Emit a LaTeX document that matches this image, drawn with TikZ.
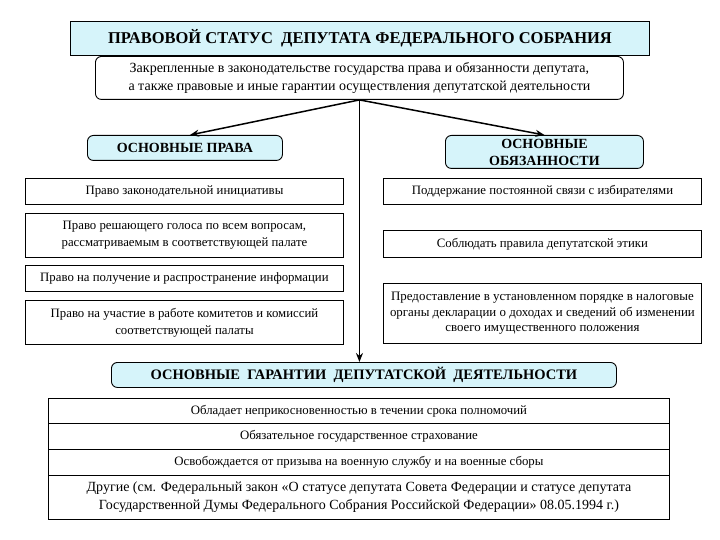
\documentclass[tikz,border=0pt]{standalone}
\usepackage{fontspec}
\setmainfont{LiberationSerif}[Extension=.ttf, UprightFont=*-Regular, BoldFont=*-Bold, ItalicFont=*-Italic, BoldItalicFont=*-BoldItalic]
\usetikzlibrary{arrows.meta}
\definecolor{paleblue}{RGB}{214,244,250}
\begin{document}
\begin{tikzpicture}[x=1pt,y=-1pt,
  base/.style={draw=black, line width=0.9pt, inner sep=0pt, anchor=north west, align=center,
     font=\fontsize{12.8}{17}\selectfont},
  plain/.style={base, fill=white},
  head/.style={base, fill=paleblue, rounded corners=6pt, font=\fontsize{14}{17}\selectfont\bfseries},
  note/.style={base, fill=white, rounded corners=6pt},
  conn/.style={line width=1.5pt, -{Stealth[length=9pt,width=7pt]}}]
\useasboundingbox (0,0) rectangle (720,540);
\fill[white] (0,0) rectangle (720,540);

\node[base, fill=paleblue, minimum width=579pt, minimum height=34pt,
  font=\fontsize{16.5}{17}\selectfont\bfseries] (title) at (70,21)
  {ПРАВОВОЙ СТАТУС\ \ ДЕПУТАТА ФЕДЕРАЛЬНОГО СОБРАНИЯ};
\node[note, minimum width=528pt, minimum height=43pt, font=\fontsize{14}{18}\selectfont] (sub) at (95,56)
  {Закрепленные в законодательстве государства права и обязанности депутата,\\
   а также правовые и иные гарантии осуществления депутатской деятельности};

\node[head, minimum width=195pt, minimum height=25pt] (rights) at (87,135) {ОСНОВНЫЕ ПРАВА};
\node[head, minimum width=198pt, minimum height=33pt] (duties) at (445,135) {ОСНОВНЫЕ\\ОБЯЗАННОСТИ};

\node[plain, minimum width=318pt, minimum height=26pt] (r1) at (25,178) {Право законодательной инициативы};
\node[plain, minimum width=318pt, minimum height=44pt] (r2) at (25,213)
  {Право решающего голоса по всем вопросам,\\рассматриваемым в соответствующей палате};
\node[plain, minimum width=318pt, minimum height=26pt] (r3) at (25,265) {Право на получение и распространение информации};
\node[plain, minimum width=318pt, minimum height=44pt] (r4) at (25,300)
  {Право на участие в работе комитетов и комиссий\\соответствующей палаты};

\node[plain, minimum width=318pt, minimum height=26pt] (d1) at (383,178) {Поддержание постоянной связи с избирателями};
\node[plain, minimum width=318pt, minimum height=27pt] (d2) at (383,230) {Соблюдать правила депутатской этики};
\node[plain, minimum width=318pt, minimum height=60pt, font=\fontsize{12.9}{15.5}\selectfont] (d3) at (383,283)
  {Предоставление в установленном порядке в налоговые\\органы декларации о доходах и сведений об изменении\\своего имущественного положения};

\node[head, minimum width=505pt, minimum height=25pt, font=\fontsize{14.5}{17}\selectfont\bfseries] (guar) at (111,362)
  {ОСНОВНЫЕ\ \ ГАРАНТИИ\ \ ДЕПУТАТСКОЙ\ \ ДЕЯТЕЛЬНОСТИ};

\node[plain, minimum width=621pt, minimum height=25pt] (g1) at (48,398) {Обладает неприкосновенностью в течении срока полномочий};
\node[plain, minimum width=621pt, minimum height=26pt] (g2) at (48,423) {Обязательное государственное страхование};
\node[plain, minimum width=621pt, minimum height=26pt] (g3) at (48,449) {Освобождается от призыва на военную службу и на военные сборы};
\node[plain, minimum width=621pt, minimum height=44pt, font=\fontsize{14}{18}\selectfont] (g4) at (48,475)
  {Другие (см. Федеральный закон «О статусе депутата Совета Федерации и статусе депутата\\
   Государственной Думы Федерального Собрания Российской Федерации» 08.05.1994 г.)};

\coordinate (j) at (sub.south);
\draw[conn] (j) -- ([xshift=5pt]rights.north);
\draw[conn] (j) -- (duties.north);
\draw[conn] (j) -- (j |- guar.north);
\end{tikzpicture}
\end{document}
